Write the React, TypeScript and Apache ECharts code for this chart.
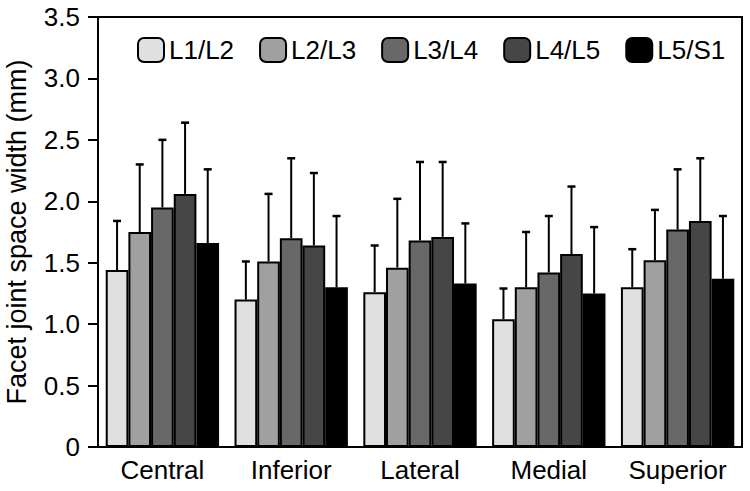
import React, { useEffect, useRef } from "react";
import * as echarts from "echarts";

const categories = ["Central", "Inferior", "Lateral", "Medial", "Superior"];
const seriesNames = ["L1/L2", "L2/L3", "L3/L4", "L4/L5", "L5/S1"];
const colors = ["#e0e0e0", "#a0a0a0", "#686868", "#464646", "#000000"];

const meanL1L2 = [1.44, 1.2, 1.26, 1.04, 1.3];
const meanL2L3 = [1.75, 1.51, 1.46, 1.3, 1.52];
const meanL3L4 = [1.95, 1.7, 1.68, 1.42, 1.77];
const meanL4L5 = [2.06, 1.64, 1.71, 1.57, 1.84];
const meanL5S1 = [1.66, 1.3, 1.33, 1.25, 1.37];

const sdL1L2 = [0.4, 0.31, 0.38, 0.25, 0.31];
const sdL2L3 = [0.55, 0.55, 0.56, 0.45, 0.41];
const sdL3L4 = [0.55, 0.65, 0.64, 0.46, 0.49];
const sdL4L5 = [0.58, 0.59, 0.61, 0.55, 0.51];
const sdL5S1 = [0.6, 0.58, 0.49, 0.54, 0.51];

const yTicks = [0, 0.5, 1, 1.5, 2, 2.5, 3, 3.5];

const means = [meanL1L2, meanL2L3, meanL3L4, meanL4L5, meanL5S1];
const sds = [sdL1L2, sdL2L3, sdL3L4, sdL4L5, sdL5S1];

const FONT = "'Liberation Sans', Arial, Helvetica, sans-serif";
const CAT_GAP = 0.12;

export default function App() {
  const ref = useRef<HTMLDivElement>(null);
  useEffect(() => {
    if (!ref.current) return;
    const chart = echarts.init(ref.current, null, { renderer: "svg" });
    const n = seriesNames.length;
    const barSeries = seriesNames.map((name, i) => ({
      name,
      type: "bar",
      data: means[i],
      barGap: "0%",
      barCategoryGap: CAT_GAP * 100 + "%",
      itemStyle: { color: colors[i], borderColor: "#000", borderWidth: 2 },
      z: 2,
    }));
    const errSeries = seriesNames.map((name, i) => ({
      name: name + " SD",
      type: "custom",
      z: 3,
      data: means[i].map((m, j) => [j, m, m + sds[i][j]]),
      encode: { x: 0, y: [1, 2] },
      renderItem: (params: any, api: any) => {
        const bw = api.size([1, 0])[0];
        const barW = (bw * (1 - CAT_GAP)) / n;
        const base = api.coord([api.value(0), api.value(1)]);
        const top = api.coord([api.value(0), api.value(2)]);
        const cx = base[0] + (i - (n - 1) / 2) * barW;
        const capHalf = 4;
        return {
          type: "group",
          children: [
            {
              type: "line",
              shape: { x1: cx, y1: base[1], x2: cx, y2: top[1] },
              style: { stroke: "#000", lineWidth: 2 },
            },
            {
              type: "line",
              shape: { x1: cx - capHalf, y1: top[1], x2: cx + capHalf, y2: top[1] },
              style: { stroke: "#000", lineWidth: 2.5 },
            },
          ],
        };
      },
    }));
    chart.setOption({
      animation: false,
      textStyle: { fontFamily: FONT, color: "#000" },
      grid: {
        left: 98,
        right: 8,
        top: 17,
        bottom: 44,
        containLabel: false,
        outerBoundsMode: "none",
        show: true,
        borderColor: "#000",
        borderWidth: 2,
        backgroundColor: "transparent",
      },
      legend: {
        data: seriesNames,
        left: 137,
        top: 37,
        padding: 0,
        itemGap: 25,
        itemWidth: 26,
        itemHeight: 24,
        textStyle: { fontSize: 26, fontFamily: FONT, color: "#000" },
      },
      xAxis: {
        type: "category",
        data: categories,
        axisLine: { lineStyle: { color: "#000", width: 2 } },
        axisTick: { show: false },
        axisLabel: { fontSize: 26, color: "#000", fontFamily: FONT, margin: 10, interval: 0 },
      },
      yAxis: {
        type: "value",
        min: yTicks[0],
        max: yTicks[yTicks.length - 1],
        interval: 0.5,
        name: "Facet joint space width (mm)",
        nameLocation: "middle",
        nameGap: 68,
        nameTextStyle: { fontSize: 27, color: "#000", fontFamily: FONT },
        axisLine: { show: true, lineStyle: { color: "#000", width: 2 } },
        axisTick: { show: true, length: 10, lineStyle: { color: "#000", width: 2 } },
        splitLine: { show: false },
        axisLabel: {
          fontSize: 26,
          color: "#000",
          fontFamily: FONT,
          margin: 18,
          formatter: (v: number) => (v === 0 ? "0" : v.toFixed(1)),
        },
      },
      series: [...barSeries, ...errSeries],
    });
    return () => chart.dispose();
  }, []);
  return (
    <div
      ref={ref}
      style={{ position: "absolute", left: 0, top: 0, width: 750, height: 491 }}
    />
  );
}
